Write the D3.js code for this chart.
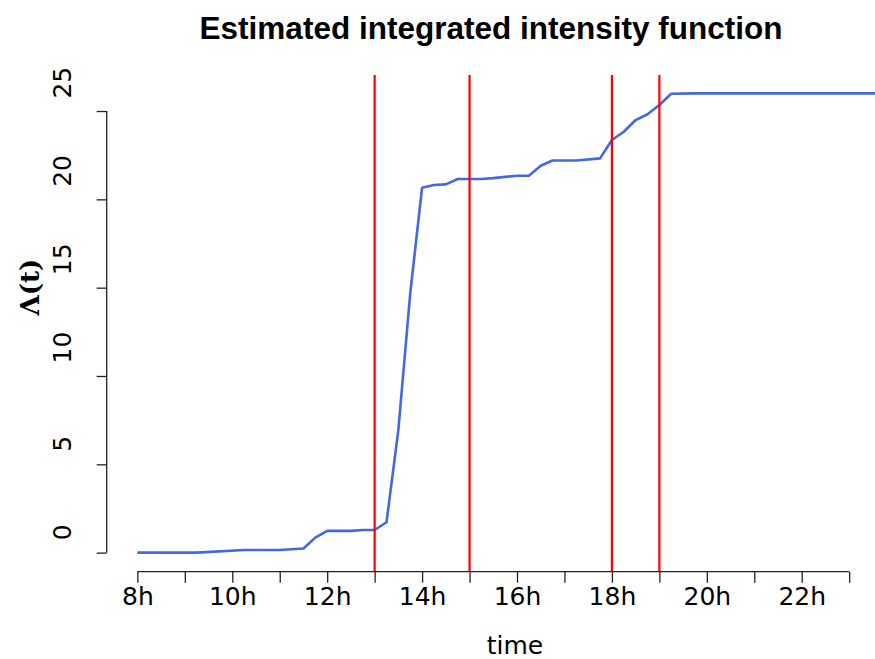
<!DOCTYPE html>
<html>
<head>
<meta charset="utf-8">
<script src="https://cdn.jsdelivr.net/npm/d3@7"></script>
<style>
  html, body { margin: 0; padding: 0; background: #fff; }
  svg { display: block; }
</style>
</head>
<body>
<svg id="chart" width="875" height="659"></svg>
<script>
// ---- data ----
const hours = [8, 9.25, 10.25, 11, 11.5, 11.75, 12, 12.5, 12.75, 13, 13.25, 13.5, 13.75, 14, 14.25, 14.5, 14.75, 15.25, 15.5, 16, 16.25, 16.5, 16.75, 17.25, 17.75, 18, 18.25, 18.5, 18.75, 19, 19.25, 19.75, 24];
const lambda = [0, 0, 0.15, 0.15, 0.23, 0.85, 1.23, 1.23, 1.28, 1.28, 1.72, 6.95, 14.68, 20.66, 20.81, 20.85, 21.15, 21.15, 21.2, 21.34, 21.34, 21.9, 22.2, 22.2, 22.32, 23.36, 23.83, 24.49, 24.82, 25.34, 25.98, 26.0, 26.0];
const changePoints = [13, 15, 18, 19];
const xTicks = [8, 9, 10, 11, 12, 13, 14, 15, 16, 17, 18, 19, 20, 21, 22, 23];
const xTickLabels = ["8h", "", "10h", "", "12h", "", "14h", "", "16h", "", "18h", "", "20h", "", "22h", ""];
const yTicks = [0, 5, 10, 15, 20, 25];

(function () {
const svg = d3.select("#chart");
const pLeft = 107, pRight = 927, pTop = 75, pBottom = 571;

const xMin = 8, xMax = 24, xPad = (xMax - xMin) * 0.04;
const yMin = 0, yMax = 26, yPad = (yMax - yMin) * 0.04;
const x = d3.scaleLinear().domain([xMin - xPad, xMax + xPad]).range([pLeft, pRight]);
const y = d3.scaleLinear().domain([yMin - yPad, yMax + yPad]).range([pBottom, pTop]);

const axisFont = "'DejaVu Sans', sans-serif";
const tickFontSize = 25;

// title
svg.append("text")
  .attr("x", 491).attr("y", 39)
  .attr("text-anchor", "middle")
  .attr("font-family", "'Liberation Sans', Arial, sans-serif")
  .attr("font-weight", "bold")
  .attr("font-size", 31.5)
  .attr("fill", "#000")
  .text("Estimated integrated intensity function");

// line
const data = hours.map((h, i) => ({ h, v: lambda[i] }));
svg.append("path")
  .datum(data)
  .attr("fill", "none")
  .attr("stroke", "#4169E1")
  .attr("stroke-width", 2.6)
  .attr("stroke-linejoin", "round")
  .attr("d", d3.line().x(d => x(d.h)).y(d => y(d.v)));

// red vertical lines
svg.selectAll("line.cp")
  .data(changePoints)
  .enter().append("line")
  .attr("class", "cp")
  .attr("x1", d => x(d)).attr("x2", d => x(d))
  .attr("y1", pTop).attr("y2", pBottom)
  .attr("stroke", "#FF0000")
  .attr("stroke-width", 2.2);

// x axis
const xAxis = d3.axisBottom(x)
  .tickValues(xTicks)
  .tickSize(11)
  .tickPadding(5)
  .tickSizeOuter(0)
  .tickFormat((d, i) => xTickLabels[i]);
const gx = svg.append("g")
  .attr("transform", `translate(0,${pBottom + 0.7})`)
  .call(xAxis);
gx.select(".domain").attr("d", `M${x(xTicks[0])},0H${x(xTicks[xTicks.length - 1])}`)
  .attr("stroke", "#222").attr("stroke-width", 1.3);
gx.selectAll(".tick line").attr("stroke", "#222").attr("stroke-width", 1.3);
gx.selectAll(".tick text")
  .attr("font-family", axisFont)
  .attr("font-size", tickFontSize)
  .attr("fill", "#000");

// y axis
const yAxis = d3.axisLeft(y)
  .tickValues(yTicks)
  .tickSize(10)
  .tickSizeOuter(0)
  .tickFormat(d3.format("d"));
const gy = svg.append("g")
  .attr("transform", `translate(${pLeft - 0.3},0)`)
  .call(yAxis);
gy.select(".domain").attr("d", `M0,${y(yTicks[0])}V${y(yTicks[yTicks.length - 1])}`)
  .attr("stroke", "#222").attr("stroke-width", 1.3);
gy.selectAll(".tick line").attr("stroke", "#222").attr("stroke-width", 1.3);
gy.selectAll(".tick text")
  .attr("font-family", axisFont)
  .attr("font-size", tickFontSize)
  .attr("fill", "#000")
  .attr("text-anchor", "start")
  .attr("x", null)
  .attr("transform", "translate(-44.5,-13) rotate(-90)")
  .attr("dy", "0.36em");

// axis titles
svg.append("text")
  .attr("x", 515).attr("y", 654)
  .attr("text-anchor", "middle")
  .attr("font-family", axisFont)
  .attr("font-size", 25)
  .attr("fill", "#000")
  .text("time");

svg.append("text")
  .attr("transform", "translate(39,287) rotate(-90)")
  .attr("text-anchor", "middle")
  .attr("font-family", "'DejaVu Serif', serif")
  .attr("font-weight", "bold")
  .attr("font-size", 26)
  .attr("fill", "#000")
  .text("Λ(t)");
})();
</script>
</body>
</html>
